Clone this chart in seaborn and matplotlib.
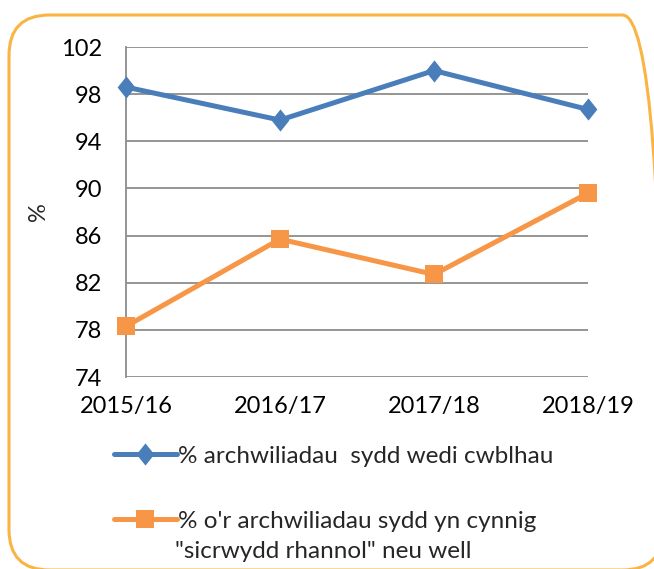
import matplotlib
matplotlib.use("Agg")
import matplotlib.pyplot as plt
from matplotlib.patches import FancyBboxPatch
import seaborn as sns
import pandas as pd

# %% data
years = ["2015/16", "2016/17", "2017/18", "2018/19"]
completed = [98.6, 95.8, 100.0, 96.7]
partial_or_better = [78.3, 85.7, 82.7, 89.6]
label_completed = "% archwiliadau  sydd wedi cwblhau"
label_partial = ["% o'r archwiliadau sydd yn cynnig", "\"sicrwydd rhannol\" neu well"]
y_ticks = [74, 78, 82, 86, 90, 94, 98, 102]

df = pd.DataFrame({"year": years, "completed": completed, "partial": partial_or_better})

# %% theme
sns.set_style("white")
plt.rcParams["font.family"] = ["Lato", "DejaVu Sans"]
blue = "#4A7EBB"
orange = "#F79646"
grid_c = "#8C8C8C"
W, H = 654, 569
diamond = [(0, 1), (0.8, 0), (0, -1), (-0.8, 0), (0, 1)]

fig = plt.figure(figsize=(W / 100, H / 100), dpi=100)
ax = fig.add_axes([126 / W, 1 - 377 / H, (588 - 126) / W, (377 - 47) / H])

sns.lineplot(data=df, x="year", y="completed", ax=ax, color=blue, lw=3.6,
             marker=diamond, markersize=16, markeredgewidth=0, sort=False,
             label=label_completed, clip_on=False, zorder=3)
sns.lineplot(data=df, x="year", y="partial", ax=ax, color=orange, lw=3.6,
             marker="s", markersize=13, markeredgewidth=0, sort=False,
             label=label_partial[0], clip_on=False, zorder=3)

ax.set_xlim(0, 3)
ax.set_ylim(74, 102)
ax.set_yticks(y_ticks)
ax.yaxis.grid(True, color=grid_c, lw=1.3)
ax.set_axisbelow(True)
for side in ["top", "right", "bottom"]:
    ax.spines[side].set_visible(False)
ax.spines["left"].set_color(grid_c)
ax.spines["left"].set_linewidth(1.3)
ax.tick_params(axis="y", length=6, width=1.3, color=grid_c, pad=11, labelsize=17)
ax.tick_params(axis="x", length=0, pad=14, labelsize=17)
ax.set_xlabel("")
ax.set_ylabel("%", fontsize=17, labelpad=9)
for lab in ax.get_xticklabels() + ax.get_yticklabels():
    lab.set_color("black")

ax.legend_.remove()
h, l = ax.get_legend_handles_labels()
fig.legend(h, l, loc="upper left", bbox_to_anchor=(104 / W, 1 - 436 / H),
           frameon=False, fontsize=17.5, handlelength=2.6, handletextpad=0.05,
           labelspacing=1.8, borderaxespad=0)
# second line of the orange label, under its first line
fig.text(175 / W, 1 - 552 / H, label_partial[1], fontsize=17.5, va="center", ha="left")

# rounded orange frame, running off the right and bottom edges
frame = FancyBboxPatch((9 / W, -1 / H), (663 - 9) / W, (570 - 15) / H,
                       boxstyle="round,pad=0,rounding_size=0.062",
                       mutation_aspect=W / H, transform=fig.transFigure,
                       fill=False, edgecolor="#F9B443", lw=2.2)
fig.patches.append(frame)

fig.savefig("out.png", dpi=100)
